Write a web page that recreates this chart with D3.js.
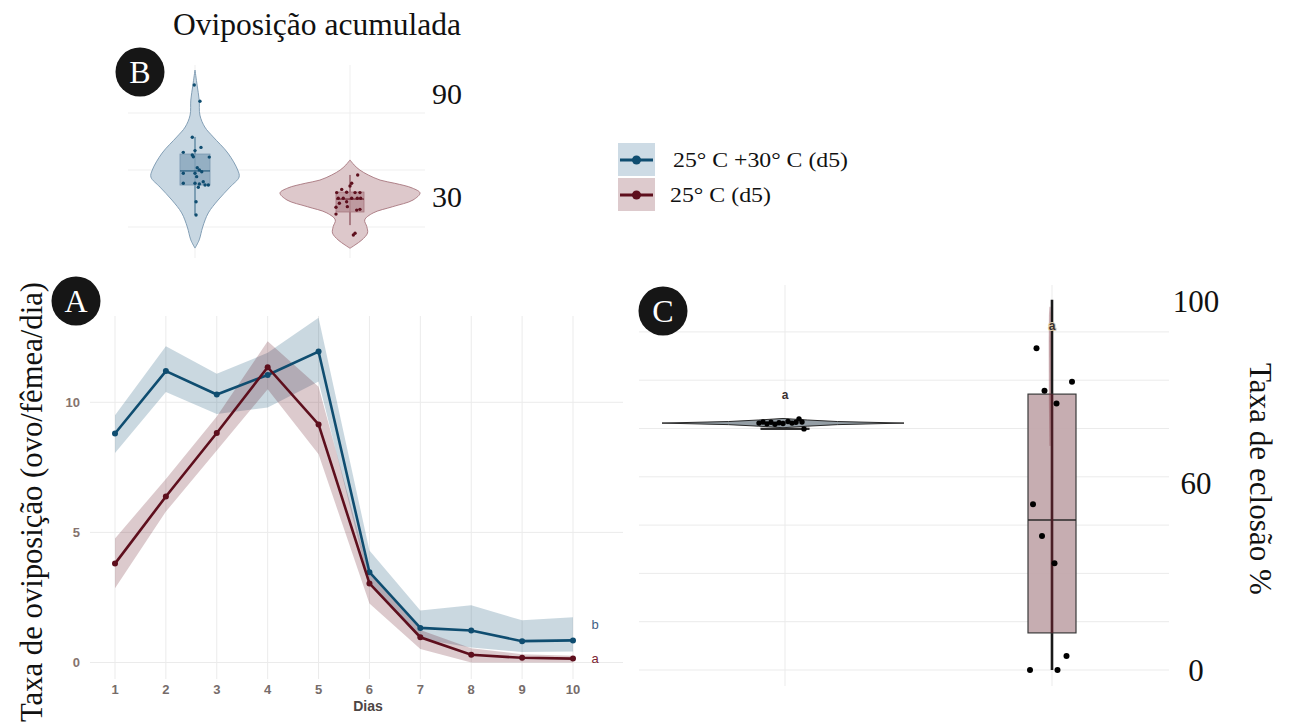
<!DOCTYPE html>
<html>
<head>
<meta charset="utf-8">
<script src="https://cdn.jsdelivr.net/npm/d3@7"></script>
<style>
  body { margin: 0; background: #fff; }
  svg { display: block; }
</style>
</head>
<body>
<div id="fig"></div>
<script>
(function() {
  var svg, serif, sans, blueCol, redCol, xA, yA, yB, yC, wB, wC, gA, gB, gC, line, band, violin;

  // ---- data ----
  var days = [1, 2, 3, 4, 5, 6, 7, 8, 9, 10];
  var blueMean = [8.8, 11.2, 10.3, 11.05, 11.95, 3.47, 1.33, 1.23, 0.82, 0.85];
  var blueLo = [8.05, 10.4, 9.55, 9.8, 10.8, 3.0, 0.9, 0.58, 0.4, 0.42];
  var blueHi = [9.5, 12.15, 11.1, 11.9, 13.25, 4.3, 2.0, 2.2, 1.62, 1.74];
  var redMean = [3.8, 6.38, 8.82, 11.35, 9.15, 3.04, 0.97, 0.3, 0.18, 0.15];
  var redLo = [2.85, 5.8, 8.15, 10.5, 8.0, 2.27, 0.52, 0.0, 0.0, 0.0];
  var redHi = [4.77, 7.05, 9.45, 12.35, 10.6, 3.4, 1.25, 0.55, 0.32, 0.26];
  var yTicksA = [0, 5, 10];
  var groupLetters = ["b", "a"];

  var legendLabels = ["25° C +30° C (d5)", "25° C (d5)"];

  // B: accumulated oviposition, violin density profiles [value, relative width]
  var blueViolin = [[102.6, 0], [94.7, 0.03], [86.8, 0.06], [78.9, 0.07], [72.6, 0.14], [67.4, 0.26], [58.9, 0.47], [50, 0.61], [46.3, 0.63], [41, 0.5], [34.2, 0.33], [27.4, 0.19], [20, 0.11], [13.2, 0.06], [8.9, 0]];
  var redViolin = [[55.3, 0], [52.6, 0.06], [50, 0.14], [47.4, 0.26], [44.7, 0.43], [43, 0.64], [40.5, 0.89], [37.9, 1.0], [34.2, 0.9], [30.7, 0.61], [27.4, 0.33], [23.7, 0.21], [20.2, 0.24], [16.8, 0.25], [13.2, 0.17], [10.5, 0.07], [8.8, 0]];
  // box stats: [whiskerLow, q1, median, q3, whiskerHigh]
  var blueBox = [26.3, 42.1, 49.5, 58.4, 67.4];
  var redBox = [21, 27.9, 34.7, 38.4, 47.4];
  // jittered points [jitter (-1..1), value]
  var bluePts = [[-0.05, 94.7], [0.33, 86.2], [-0.18, 67.2], [-0.78, 59.3], [-0.18, 57.9], [-0.11, 57.0], [0, 60.2], [0.4, 61.9], [0.95, 56.8], [0.15, 51.2], [0.29, 50], [0.45, 49.1], [-0.78, 48.3], [0, 48.3], [0.11, 46.5], [-0.78, 43], [0, 43], [0.29, 42.6], [0.55, 43.8], [0.67, 42.1], [0.89, 42.1], [0.07, 33.3], [0.07, 26.3], [0.22, 40.9]];
  var redPts = [[0.55, 47.4], [0.12, 43], [0, 41.6], [-0.59, 39.8], [-0.95, 38.1], [-0.24, 38.3], [0.36, 38.1], [0.71, 38.1], [-0.84, 35.1], [-0.48, 35.1], [0.12, 35.1], [0.52, 35.1], [0.76, 35.1], [-0.24, 33.3], [-0.76, 32.5], [-1.0, 30.4], [-0.19, 30.7], [0.71, 29.3], [0.48, 28.9], [-1.0, 26.8], [0.36, 16.7], [0.24, 15.8]];
  var tickLabelsB = [{text: "90", v: 90}, {text: "30", v: 36}];

  // C: hatching rate
  var leftViolinC = [[62.7, 0], [63.1, 0.2], [63.5, 0.45], [63.9, 1.0], [64.3, 0.45], [64.7, 0.2], [65.1, 0]];
  var rightViolinC = [[58, 0], [70, 0.006], [85, 0.008], [92, 0.005], [94, 0]];
  var leftBoxC = [62.2, 62.3, 62.4, 62.55, 62.6];
  var rightBoxC = [0, 9.6, 38.8, 71.4, 95.8];
  var leftPtsC = [[-0.52, 63.9], [-0.44, 64.2], [-0.36, 63.7], [-0.28, 64.1], [-0.2, 63.6], [-0.12, 64.0], [-0.04, 63.8], [0.06, 64.3], [0.14, 63.9], [0.22, 64.1], [0.28, 65.0], [0.34, 64.2], [0.38, 62.4]];
  var rightPtsC = [[-0.31, 83.3], [0.4, 74.6], [-0.15, 72.3], [0.09, 69.0], [-0.38, 42.9], [-0.2, 34.7], [0.05, 27.6], [0.29, 3.6], [-0.44, 0], [0.11, 0]];
  var gridC = d3.range(0, 100, 12.5);
  var tickLabelsC = [{text: "100", v: 95.6}, {text: "60", v: 48.4}, {text: "0", v: 0}];

  serif = "'Liberation Serif', 'Times New Roman', serif";
  sans = "'Liberation Sans', Arial, sans-serif";
  blueCol = "#0f4d70";
  redCol = "#5e0f1d";

  svg = d3.select("#fig").append("svg").attr("width", 1293).attr("height", 726);
  svg.append("rect").attr("width", 1293).attr("height", 726).attr("fill", "#fff");

  // ================= Panel A =================
  xA = d3.scaleLinear().domain([1, 10]).range([115, 573]);
  yA = d3.scaleLinear().domain([0, 10]).range([662.5, 402.3]);
  gA = svg.append("g");

  gA.selectAll("line.vg").data(days).enter().append("line")
    .attr("x1", function(d) { return xA(d); }).attr("x2", function(d) { return xA(d); })
    .attr("y1", 316).attr("y2", 679)
    .attr("stroke", "#ebebeb").attr("stroke-width", 1);
  gA.selectAll("line.hg").data(yTicksA).enter().append("line")
    .attr("x1", 90).attr("x2", 623)
    .attr("y1", function(d) { return yA(d); }).attr("y2", function(d) { return yA(d); })
    .attr("stroke", "#ebebeb").attr("stroke-width", 1);

  gA.selectAll("text.yt").data(yTicksA).enter().append("text")
    .attr("x", 80).attr("y", function(d) { return yA(d) + 4.5; })
    .attr("text-anchor", "end").attr("font-family", sans).attr("font-size", 13).attr("font-weight", "bold")
    .attr("fill", "#85736e").text(function(d) { return d; });
  gA.selectAll("text.xt").data(days).enter().append("text")
    .attr("x", function(d) { return xA(d); }).attr("y", 694)
    .attr("text-anchor", "middle").attr("font-family", sans).attr("font-size", 13).attr("font-weight", "bold")
    .attr("fill", "#766c6a").text(function(d) { return d; });
  gA.append("text").attr("x", 368).attr("y", 711).attr("text-anchor", "middle")
    .attr("font-family", sans).attr("font-size", 14).attr("font-weight", "bold").attr("fill", "#4d4543").text("Dias");

  band = d3.area()
    .x(function(d, j) { return xA(days[j]); })
    .y0(function(d) { return yA(d[0]); })
    .y1(function(d) { return yA(d[1]); });
  line = d3.line()
    .x(function(d, j) { return xA(days[j]); })
    .y(function(d) { return yA(d); });

  var series = [
    {mean: blueMean, lo: blueLo, hi: blueHi, col: blueCol},
    {mean: redMean, lo: redLo, hi: redHi, col: redCol}
  ];
  series.forEach(function(s) {
    gA.append("path").datum(s.lo.map(function(v, j) { return [v, s.hi[j]]; }))
      .attr("d", band).attr("fill", s.col).attr("fill-opacity", 0.22);
  });
  series.forEach(function(s) {
    gA.append("path").datum(s.mean).attr("d", line)
      .attr("fill", "none").attr("stroke", s.col).attr("stroke-width", 2.6);
    gA.selectAll(null).data(s.mean).enter().append("circle")
      .attr("cx", function(d, j) { return xA(days[j]); })
      .attr("cy", function(d) { return yA(d); })
      .attr("r", 3).attr("fill", s.col);
  });
  gA.selectAll("text.gl").data(groupLetters).enter().append("text")
    .attr("x", xA(10) + 22)
    .attr("y", function(d, j) { return yA(series[j].mean[9]) - 11 + j * 15; })
    .attr("text-anchor", "middle").attr("font-family", sans).attr("font-size", 13)
    .attr("fill", function(d, j) { return j === 0 ? "#3f5f86" : "#7a2332"; })
    .text(function(d) { return d; });

  gA.append("text")
    .attr("transform", "translate(42,502) rotate(-90)")
    .attr("text-anchor", "middle").attr("font-family", serif).attr("font-size", 31)
    .attr("textLength", 440).attr("lengthAdjust", "spacingAndGlyphs")
    .attr("fill", "#111").text("Taxa de oviposição (ovo/fêmea/dia)");

  // ================= Panel B =================
  yB = d3.scaleLinear().domain([0, 100]).range([265, 75]);
  wB = d3.scaleLinear().domain([0, 1]).range([0, 70]);
  gB = svg.append("g");

  gB.selectAll("line.hg").data([20, 50, 80]).enter().append("line")
    .attr("x1", 128).attr("x2", 425)
    .attr("y1", function(d) { return yB(d); }).attr("y2", function(d) { return yB(d); })
    .attr("stroke", "#efefef");
  gB.selectAll("line.vg").data([195, 350]).enter().append("line")
    .attr("x1", function(d) { return d; }).attr("x2", function(d) { return d; })
    .attr("y1", 65).attr("y2", 258).attr("stroke", "#efefef");

  var groupsB = [
    {cx: 195, prof: blueViolin, box: blueBox, pts: bluePts, fill: "#c8d7e2", stroke: "#7896af", boxFill: "#87a5bb", col: blueCol, hw: 15},
    {cx: 350, prof: redViolin, box: redBox, pts: redPts, fill: "#ddc8cb", stroke: "#a7767e", boxFill: "#b78f95", col: redCol, hw: 14}
  ];

  groupsB.forEach(function(g) {
    violin = d3.area()
      .curve(d3.curveCatmullRom)
      .y(function(d) { return yB(d[0]); })
      .x0(function(d) { return g.cx - wB(d[1]); })
      .x1(function(d) { return g.cx + wB(d[1]); });
    gB.append("path").datum(g.prof).attr("d", violin)
      .attr("fill", g.fill).attr("stroke", g.stroke).attr("stroke-width", 0.9);
    gB.append("line").attr("x1", g.cx).attr("x2", g.cx)
      .attr("y1", yB(g.box[0])).attr("y2", yB(g.box[4]))
      .attr("stroke", g.col).attr("stroke-width", 1).attr("opacity", 0.8);
    gB.append("rect").attr("x", g.cx - g.hw).attr("width", g.hw * 2)
      .attr("y", yB(g.box[3])).attr("height", yB(g.box[1]) - yB(g.box[3]))
      .attr("fill", g.boxFill).attr("fill-opacity", 0.8).attr("stroke", g.stroke).attr("stroke-width", 0.8);
    gB.append("line").attr("x1", g.cx - g.hw).attr("x2", g.cx + g.hw)
      .attr("y1", yB(g.box[2])).attr("y2", yB(g.box[2]))
      .attr("stroke", g.col).attr("stroke-width", 1);
    gB.selectAll(null).data(g.pts).enter().append("circle")
      .attr("cx", function(d) { return g.cx + d[0] * g.hw; })
      .attr("cy", function(d) { return yB(d[1]); })
      .attr("r", 1.7).attr("fill", g.col);
  });

  gB.selectAll("text.yt").data(tickLabelsB).enter().append("text")
    .attr("x", 447).attr("y", function(d) { return yB(d.v) + 10; })
    .attr("text-anchor", "middle").attr("font-family", serif).attr("font-size", 30)
    .attr("fill", "#111").text(function(d) { return d.text; });

  gB.append("text").attr("x", 317).attr("y", 35).attr("text-anchor", "middle")
    .attr("font-family", serif).attr("font-size", 32)
    .attr("textLength", 288).attr("lengthAdjust", "spacingAndGlyphs")
    .attr("fill", "#111").text("Oviposição acumulada");

  // ================= Legend =================
  var gL = svg.append("g").attr("transform", "translate(618,143)");
  var legCols = [
    {col: blueCol, bg: "#cddbe5", x: 55, len: 175},
    {col: redCol, bg: "#ddcacd", x: 52, len: 101}
  ];
  gL.selectAll("g").data(legendLabels).enter().append("g")
    .attr("transform", function(d, j) { return "translate(0," + (j * 35) + ")"; })
    .each(function(d, j) {
      var s = d3.select(this);
      s.append("rect").attr("width", 37).attr("height", 33).attr("fill", legCols[j].bg);
      s.append("line").attr("x1", 2).attr("x2", 35).attr("y1", 17).attr("y2", 17)
        .attr("stroke", legCols[j].col).attr("stroke-width", 3.2);
      s.append("circle").attr("cx", 18.5).attr("cy", 17).attr("r", 4.5).attr("fill", legCols[j].col);
      s.append("text").attr("x", legCols[j].x).attr("y", 24)
        .attr("font-family", serif).attr("font-size", 21)
        .attr("textLength", legCols[j].len).attr("lengthAdjust", "spacingAndGlyphs")
        .attr("fill", "#111").text(d);
    });

  // ================= Panel C =================
  yC = d3.scaleLinear().domain([0, 100]).range([670, 283.6]);
  wC = d3.scaleLinear().domain([0, 1]).range([0, 121]);
  gC = svg.append("g");

  gC.selectAll("line.hg").data(gridC).enter().append("line")
    .attr("x1", 639).attr("x2", 1169)
    .attr("y1", function(d) { return yC(d); }).attr("y2", function(d) { return yC(d); })
    .attr("stroke", "#ebebeb");
  gC.selectAll("line.vg").data([785, 1052]).enter().append("line")
    .attr("x1", function(d) { return d; }).attr("x2", function(d) { return d; })
    .attr("y1", 285).attr("y2", 686).attr("stroke", "#ebebeb");

  var groupsC = [
    {cx: 785, prof: leftViolinC, box: leftBoxC, pts: leftPtsC, vfill: "#949ea5", vstroke: "#2a2a2a", boxFill: "#c9b2b6", letter: "a"},
    {cx: 1052, prof: rightViolinC, box: rightBoxC, pts: rightPtsC, vfill: "#7a2a36", vstroke: "#7a2a36", boxFill: "#c3a9ad", letter: "a"}
  ];
  var boxHalfC = 24;

  groupsC.forEach(function(g, k) {
    // whisker + box
    gC.append("line").attr("x1", g.cx).attr("x2", g.cx)
      .attr("y1", yC(g.box[0])).attr("y2", yC(g.box[4]))
      .attr("stroke", "#1a1a1a").attr("stroke-width", k === 1 ? 2.6 : 1);
    gC.append("rect").attr("x", g.cx - boxHalfC).attr("width", boxHalfC * 2)
      .attr("y", yC(g.box[3])).attr("height", Math.max(1, yC(g.box[1]) - yC(g.box[3])))
      .attr("fill", g.boxFill).attr("fill-opacity", 0.95).attr("stroke", "#3a3a3a").attr("stroke-width", 1.2);
    gC.append("line").attr("x1", g.cx - boxHalfC).attr("x2", g.cx + boxHalfC)
      .attr("y1", yC(g.box[2])).attr("y2", yC(g.box[2]))
      .attr("stroke", "#2a2a2a").attr("stroke-width", 1.5);
    if (k === 1) {
      gC.append("line").attr("x1", g.cx).attr("x2", g.cx)
        .attr("y1", yC(g.box[3])).attr("y2", yC(g.box[1]))
        .attr("stroke", "#4a1e26").attr("stroke-width", 2.6);
    }
    violin = d3.area()
      .curve(d3.curveLinear)
      .y(function(d) { return yC(d[0]); })
      .x0(function(d) { return g.cx - 2 - wC(d[1]); })
      .x1(function(d) { return g.cx - 2 + wC(d[1]); });
    gC.append("path").datum(g.prof).attr("d", violin)
      .attr("fill", g.vfill).attr("stroke", g.vstroke).attr("stroke-width", k === 0 ? 1 : 0.5)
      .attr("opacity", k === 0 ? 1 : 0.45);
    gC.selectAll(null).data(g.pts).enter().append("circle")
      .attr("cx", function(d) { return g.cx + d[0] * 50; })
      .attr("cy", function(d) { return yC(d[1]); })
      .attr("r", k === 0 ? 2.7 : 3).attr("fill", "#000");
    gC.append("text").attr("x", g.cx).attr("y", k === 0 ? yC(g.box[4]) - 29 : yC(g.box[4]) + 30)
      .attr("text-anchor", "middle").attr("font-family", sans).attr("font-size", 12).attr("font-weight", "bold")
      .attr("fill", "#3a3030").attr("stroke", k === 1 ? "#d9c9a8" : "none").attr("stroke-width", 2)
      .attr("paint-order", "stroke")
      .text(g.letter);
  });

  gC.selectAll("text.yt").data(tickLabelsC).enter().append("text")
    .attr("x", 1196).attr("y", function(d) { return yC(d.v) + 11; })
    .attr("text-anchor", "middle").attr("font-family", serif).attr("font-size", 31)
    .attr("fill", "#111").text(function(d) { return d.text; });

  gC.append("text")
    .attr("transform", "translate(1250,479) rotate(90)")
    .attr("text-anchor", "middle").attr("font-family", serif).attr("font-size", 31)
    .attr("textLength", 232).attr("lengthAdjust", "spacingAndGlyphs")
    .attr("fill", "#111").text("Taxa de eclosão %");

  // ================= Panel badges =================
  var badges = [
    {t: "A", cx: 76, cy: 301},
    {t: "B", cx: 140, cy: 72},
    {t: "C", cx: 663, cy: 311}
  ];
  var gb = svg.selectAll("g.badge").data(badges).enter().append("g")
    .attr("transform", function(d) { return "translate(" + d.cx + "," + d.cy + ")"; });
  gb.append("circle").attr("r", 24.5).attr("fill", "#161616");
  gb.append("text").attr("y", 11).attr("text-anchor", "middle")
    .attr("font-family", serif).attr("font-size", 32).attr("fill", "#fff")
    .text(function(d) { return d.t; });

}).call(this);
</script>
</body>
</html>
